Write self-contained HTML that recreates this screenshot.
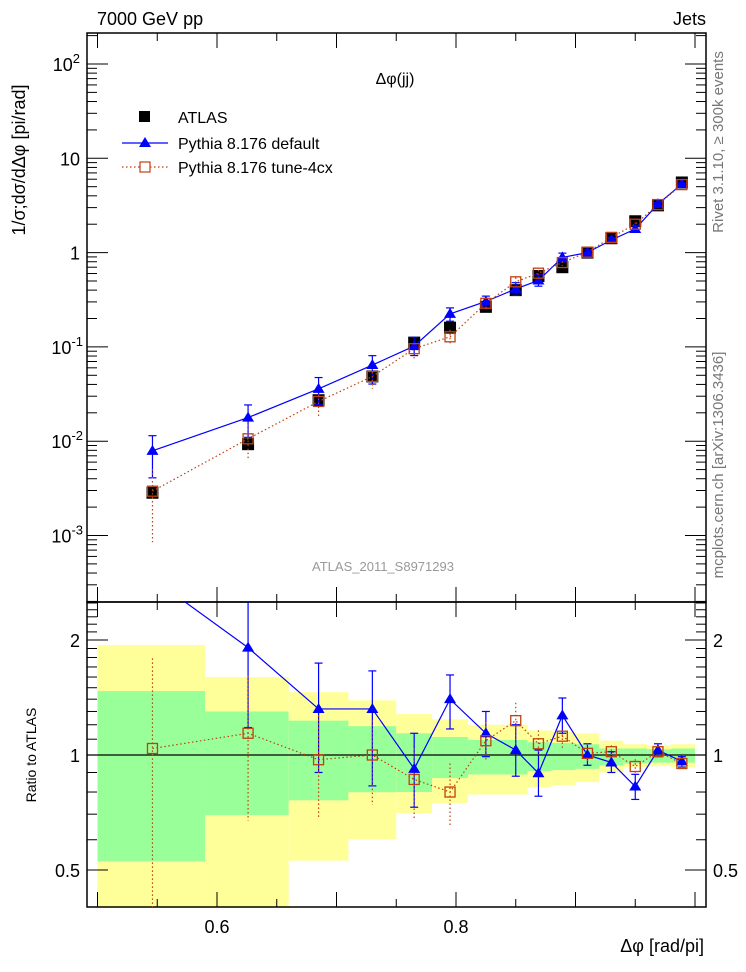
<!DOCTYPE html>
<html><head><meta charset="utf-8"><style>
html,body{margin:0;padding:0;background:#fff;}
svg{display:block;font-family:"Liberation Sans",sans-serif;}
</style></head><body>
<svg id="chart" width="746" height="972" viewBox="0 0 746 972" xmlns="http://www.w3.org/2000/svg">
<g id="bands"></g>
<g id="grid"></g>
<g id="marks"></g>
<text x="97" y="25" font-size="18">7000 GeV pp</text>
<text x="706" y="25" font-size="18" text-anchor="end">Jets</text>
<text x="395" y="84" font-size="16" text-anchor="middle">Δφ(jj)</text>
<text x="383" y="571" font-size="13" fill="#999" text-anchor="middle">ATLAS_2011_S8971293</text>
<text transform="translate(723,142) rotate(-90)" font-size="15" fill="#777" text-anchor="middle">Rivet 3.1.10, ≥ 300k events</text>
<text transform="translate(723,465) rotate(-90)" font-size="15" fill="#777" text-anchor="middle">mcplots.cern.ch [arXiv:1306.3436]</text>
<text transform="translate(25,160) rotate(-90)" font-size="18" text-anchor="middle">1/σ;dσ/dΔφ [pi/rad]</text>
<text transform="translate(36,755) rotate(-90)" font-size="14" text-anchor="middle">Ratio to ATLAS</text>
<text x="704" y="952" font-size="18" text-anchor="end">Δφ [rad/pi]</text>
<g>
<rect x="139" y="111" width="11" height="11" fill="#000"/>
<text x="178" y="123" font-size="16">ATLAS</text>
<line x1="122" y1="143" x2="168" y2="143" stroke="#0000ff" stroke-width="1.2"/>
<polygon points="145,137 151,147 139,147" fill="#0000ff"/>
<text x="178" y="149" font-size="16">Pythia 8.176 default</text>
<line x1="122" y1="167" x2="168" y2="167" stroke="#c04010" stroke-width="1.2" stroke-dasharray="1.5,2.5"/>
<rect x="140" y="162" width="10" height="10" fill="#fff" stroke="#c04010" stroke-width="1.2"/>
<text x="178" y="173" font-size="16">Pythia 8.176 tune-4cx</text>
</g>
</svg>
<script>
const xs = [0.546,0.626,0.685,0.730,0.765,0.795,0.825,0.850,0.869,0.889,0.910,0.930,0.950,0.969,0.989];
const atlas = [0.00284,0.0093,0.0272,0.0486,0.111,0.16,0.266,0.40,0.565,0.70,1.0,1.42,2.15,3.17,5.54];
const defMain = [0.0079,0.0178,0.0359,0.0642,0.102,0.224,0.303,0.412,0.506,0.889,1.0,1.36,1.78,3.27,5.33];
const tuneMain = [0.00295,0.0106,0.0264,0.0486,0.0958,0.128,0.29,0.49,0.605,0.784,1.01,1.45,2.0,3.23,5.26];
const defRatio = [2.9,1.91,1.32,1.32,0.92,1.40,1.14,1.03,0.896,1.27,1.00,0.956,0.827,1.03,0.962];
const defHi = [4.2,2.6,1.74,1.66,1.14,1.62,1.30,1.20,1.03,1.41,1.07,1.02,0.89,1.07,0.99];
const defLo = [1.5,1.18,0.90,0.83,0.73,1.17,0.99,0.88,0.78,1.14,0.94,0.90,0.765,0.99,0.93];
const tuneRatio = [1.04,1.14,0.972,1.0,0.863,0.80,1.09,1.23,1.07,1.12,1.01,1.02,0.933,1.02,0.95];
const tuneHi = [1.79,1.61,1.27,1.23,1.04,0.95,1.22,1.37,1.16,1.16,1.07,1.06,0.975,1.05,0.98];
const tuneLo = [0.3,0.674,0.68,0.74,0.68,0.65,0.97,1.07,1.0,1.03,0.96,0.96,0.89,0.98,0.92];
const binEdges = [0.5,0.59,0.66,0.71,0.75,0.78,0.81,0.86,0.88,0.90,0.92,0.94,0.96,0.98,1.0];
const yelTop = [1.94,1.60,1.46,1.39,1.28,1.24,1.20,1.16,1.15,1.14,1.09,1.067,1.06,1.067];
const grnTop = [1.47,1.30,1.23,1.19,1.14,1.115,1.095,1.08,1.075,1.067,1.04,1.04,1.035,1.04];
const grnBot = [0.527,0.696,0.761,0.799,0.80,0.87,0.889,0.908,0.913,0.92,0.94,0.95,0.955,0.955];
const yelBot = [0.3,0.3,0.529,0.602,0.705,0.749,0.788,0.823,0.834,0.849,0.90,0.93,0.935,0.93];
const xTicks = [0.6,0.8];
const mainTicks = [2,1,0,-1,-2,-3];
const ratioTicks = [0.5,1,2];

const L=87,R=706,T=33,MB=602,B=907;
const X=v=>217+(v-0.6)*1195;
const Y=v=>252.6-Math.log10(v)*94.3;
const RY=r=>755-Math.log2(r)*115;
const clampR=y=>Math.max(MB,Math.min(B,y));
const NS="http://www.w3.org/2000/svg";
function mk(tag,attrs,parent){const e=document.createElementNS(NS,tag);for(const k in attrs)e.setAttribute(k,attrs[k]);parent.appendChild(e);return e;}
const bands=document.getElementById('bands'),grid=document.getElementById('grid'),marks=document.getElementById('marks');

for(let i=0;i<yelTop.length;i++){
  const x1=X(binEdges[i]),x2=X(binEdges[i+1]);
  const yt=clampR(RY(yelTop[i])),yb=clampR(RY(yelBot[i]));
  const r1=mk('rect',{x:x1,y:yt,width:x2-x1,height:yb-yt,fill:'#ffff99'},bands);
  
  
  const gt=clampR(RY(grnTop[i])),gb=clampR(RY(grnBot[i]));
  const r2=mk('rect',{x:x1,y:gt,width:x2-x1,height:gb-gt,fill:'#99ff99'},bands);
  
  
}

mk('rect',{x:L,y:T,width:R-L,height:MB-T,fill:'none',stroke:'#000','stroke-width':1.5},grid);
mk('rect',{x:L,y:MB,width:R-L,height:B-MB,fill:'none',stroke:'#000','stroke-width':1.5},grid);
mk('line',{x1:L,y1:RY(1),x2:R,y2:RY(1),stroke:'#000','stroke-width':1.2},grid);

for(let k=0;k<=10;k++){
  const v=0.5+k*0.05, x=X(v); const maj=(k%2===0);
  const len=maj?15:8;
  [[T,T+len],[MB,MB-len],[MB,MB+len],[B,B-len]].forEach(p=>mk('line',{x1:x,y1:p[0],x2:x,y2:p[1],stroke:'#000'},grid));
}
xTicks.forEach(v=>{
  const t=mk('text',{x:X(v),y:933,'font-size':18,'text-anchor':'middle'},grid);
  t.textContent=v.toFixed(1);
  
  
});
for(let d=-4;d<=2;d++){
  for(let m=1;m<=9;m++){
    const v=m*Math.pow(10,d), y=Y(v); if(y<T||y>MB)continue;
    const len=m===1?21:10;
    mk('line',{x1:L,y1:y,x2:L+len,y2:y,stroke:'#000'},grid);
    mk('line',{x1:R,y1:y,x2:R-len,y2:y,stroke:'#000'},grid);
  }
}
mainTicks.forEach(e=>{
  const y=Y(Math.pow(10,e));
  const t=mk('text',{x:80,y:y+7,'font-size':18,'text-anchor':'end'},grid);
  
  
  if(e===1)t.textContent='10';
  else if(e===0)t.textContent='1';
  else{t.textContent='10';const s=mk('tspan',{dy:-8,'font-size':13},t);s.textContent=String(e);t.setAttribute('x',e<0?83:80);}
});
const rt=[0.4,0.5,0.6,0.7,0.8,0.9,1,1.1,1.2,1.3,1.4,1.5,1.6,1.7,1.8,1.9,2,2.1,2.2,2.3,2.4,2.5];
rt.forEach(r=>{const y=RY(r);if(y<MB||y>B)return;const len=ratioTicks.includes(r)?21:10;
  mk('line',{x1:L,y1:y,x2:L+len,y2:y,stroke:'#000'},grid);
  mk('line',{x1:R,y1:y,x2:R-len,y2:y,stroke:'#000'},grid);});
ratioTicks.forEach(r=>{
  [[80,'end'],[713,'start']].forEach(p=>{
    const t=mk('text',{x:p[0],y:RY(r)+7,'font-size':18,'text-anchor':p[1]},grid);
    t.textContent=String(r);
    
    
  });
});

const defs=mk('defs',{},document.getElementById('chart'));
const c1=mk('clipPath',{id:'cm'},defs);mk('rect',{x:L,y:T,width:R-L,height:MB-T},c1);
const c2=mk('clipPath',{id:'cr'},defs);mk('rect',{x:L,y:MB,width:R-L,height:B-MB},c2);
const gm=mk('g',{'clip-path':'url(#cm)'},marks), gr=mk('g',{'clip-path':'url(#cr)'},marks);

const BLUE='#0000ff', ORG='#c04010';
function poly(g,xsv,ysv,color,dash,name){
  const p=mk('polyline',{points:xsv.map((x,i)=>x+','+ysv[i]).join(' '),fill:'none',stroke:color,'stroke-width':1.2},g);
  if(dash)p.setAttribute('stroke-dasharray','1.5,2.5');
  
  
}
function err(g,x,y1,y2,color,dash){
  const l=mk('line',{x1:x,y1:y1,x2:x,y2:y2,stroke:color,'stroke-width':1.2},g);
  if(dash)l.setAttribute('stroke-dasharray','1.5,2.5');
  else{mk('line',{x1:x-4,y1:y1,x2:x+4,y2:y1,stroke:color,'stroke-width':1.2},g);mk('line',{x1:x-4,y1:y2,x2:x+4,y2:y2,stroke:color,'stroke-width':1.2},g);}
}
function tri(g,x,y){const p=mk('polygon',{points:`${x},${y-6} ${x+6},${y+4} ${x-6},${y+4}`,fill:BLUE},g);
  }
function sq(g,x,y){const p=mk('rect',{x:x-5,y:y-5,width:10,height:10,fill:'none',stroke:ORG,'stroke-width':1.3},g);
  }

xs.forEach((v,i)=>{const r=mk('rect',{x:X(v)-6,y:Y(atlas[i])-6,width:12,height:12,fill:'#000'},gm);
  });
poly(gm,xs.map(X),defMain.map(Y),BLUE,false,'default-line');
poly(gm,xs.map(X),tuneMain.map(Y),ORG,true,'tune-line');
xs.forEach((v,i)=>{
  err(gm,X(v),Y(defMain[i]*defHi[i]/defRatio[i]),Y(defMain[i]*defLo[i]/defRatio[i]),BLUE,false);
  err(gm,X(v),Y(tuneMain[i]*tuneHi[i]/tuneRatio[i]),Y(tuneMain[i]*tuneLo[i]/tuneRatio[i]),ORG,true);
  tri(gm,X(v),Y(defMain[i])); sq(gm,X(v),Y(tuneMain[i]));
});
poly(gr,xs.map(X),defRatio.map(RY),BLUE,false,'default-ratio-line');
poly(gr,xs.map(X),tuneRatio.map(RY),ORG,true,'tune-ratio-line');
xs.forEach((v,i)=>{
  if(RY(defRatio[i])>=MB) err(gr,X(v),RY(defHi[i]),RY(defLo[i]),BLUE,false);
  if(RY(tuneRatio[i])>=MB) err(gr,X(v),RY(tuneHi[i]),RY(tuneLo[i]),ORG,true);
  tri(gr,X(v),RY(defRatio[i])); sq(gr,X(v),RY(tuneRatio[i]));
});
</script>
</body></html>
